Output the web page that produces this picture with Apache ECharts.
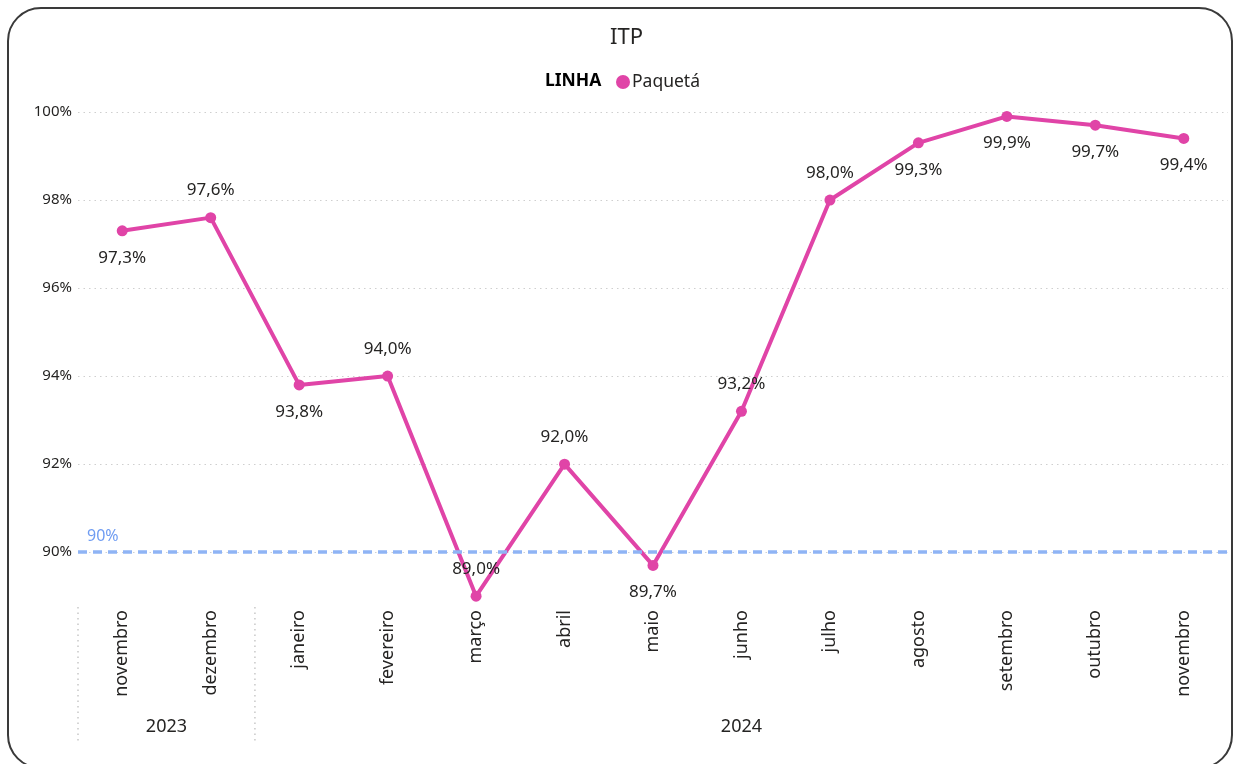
<!DOCTYPE html>
<html>
<head>
<meta charset="utf-8">
<script src="https://cdn.jsdelivr.net/npm/echarts@6/dist/echarts.min.js"></script>
<style>
html,body{margin:0;padding:0;background:#fff;overflow:hidden}
#c{width:1234px;height:764px;position:absolute;left:0;top:0}
#frame{position:absolute;left:7px;top:7px;width:1222px;height:758px;border:2px solid #3a3a3a;border-radius:34px;pointer-events:none}
</style>
</head>
<body>
<div id="c"></div>
<div id="frame"></div>
<script>
// ---- data ----
const months = ['novembro','dezembro','janeiro','fevereiro','março','abril','maio','junho','julho','agosto','setembro','outubro','novembro'];
const years = ['2023','2023','2024','2024','2024','2024','2024','2024','2024','2024','2024','2024','2024'];
const itp = [97.3, 97.6, 93.8, 94.0, 89.0, 92.0, 89.7, 93.2, 98.0, 99.3, 99.9, 99.7, 99.4];
const labelSide = ['bottom','top','bottom','top','top','top','bottom','top','top','bottom','bottom','bottom','bottom'];
const target = 90;
const yMin = 88.8, yMax = 100;

const FONT = '"Noto Sans", "Open Sans", sans-serif';
const TXT = '#252423';
const chart = echarts.init(document.getElementById('c'), null, {renderer: 'canvas'});

const fmtPct = v => v.toFixed(1).replace('.', ',') + '%';

chart.setOption({
  animation: false,
  textStyle: {fontFamily: FONT},
  title: [
    {text: 'ITP', left: 605, top: 22, textStyle: {fontSize: 22, fontWeight: 'normal', color: TXT, fontFamily: FONT}},
    {text: 'LINHA', left: 540, top: 67, textStyle: {fontSize: 17.5, fontWeight: 'bold', color: '#000', fontFamily: FONT}}
  ],
  legend: {
    left: 611, top: 68, icon: 'circle', itemWidth: 14, itemHeight: 14, itemGap: 4,
    textStyle: {fontSize: 17.5, color: TXT, fontFamily: FONT, padding: [0,0,0,-3]},
    data: ['Paquetá']
  },
  grid: {left: 78, right: 6, top: 112, bottom: 159, containLabel: false},
  xAxis: {
    type: 'category', data: months, boundaryGap: true,
    axisLine: {show: false}, axisTick: {show: false},
    axisLabel: {rotate: 90, margin: 5, fontSize: 18, color: TXT, fontFamily: FONT, interval: 0}
  },
  yAxis: {
    type: 'value', min: yMin, max: yMax, splitNumber: 5,
    axisLine: {show: false}, axisTick: {show: false},
    axisLabel: {showMinLabel: false, margin: 6, fontSize: 15, color: TXT, fontFamily: FONT, formatter: v => Math.round(v) + '%'},
    splitLine: {show: true, showMinLine: false, lineStyle: {color: '#cfcfcf', type: [1.5, 4], width: 1}}
  },
  series: [{
    name: 'Paquetá', type: 'line', data: itp.map((v, i) => ({value: v, label: {position: labelSide[i]}})),
    symbol: 'circle', symbolSize: 11,
    lineStyle: {color: '#E044A7', width: 4},
    itemStyle: {color: '#E044A7'},
    label: {show: true, distance: 13, fontSize: 17, color: TXT, fontFamily: FONT, formatter: p => fmtPct(p.value)},
    markLine: {
      silent: true, symbol: 'none',
      data: [{yAxis: target}],
      lineStyle: {color: '#8fb4f5', type: [9, 6], width: 3.5},
      label: {show: true, position: 'insideStartTop', distance: [9, 8], formatter: target + '%', color: '#6f9cf2', fontSize: 16, fontFamily: FONT}
    }
  }]
});

// year grouping row, positioned via the library's own scales
function drawGroups() {
  const c = months.map((m, i) => chart.convertToPixel({xAxisIndex: 0}, i));
  const band = c[1] - c[0];
  const yBottom = chart.convertToPixel({yAxisIndex: 0}, yMin);
  const edges = [c[0] - band / 2];
  const groups = [];
  let start = 0;
  for (let i = 1; i <= years.length; i++) {
    if (i === years.length || years[i] !== years[i - 1]) {
      const l = c[start] - band / 2, r = c[i - 1] + band / 2;
      groups.push({name: years[start], x: (l + r) / 2});
      if (i < years.length) edges.push((c[i - 1] + c[i]) / 2);
      start = i;
    }
  }
  const g = [];
  edges.forEach(x => g.push({
    type: 'line', silent: true,
    shape: {x1: x, y1: yBottom + 2, x2: x, y2: yBottom + 138},
    style: {stroke: '#c8c8c8', lineWidth: 1.5, lineDash: [1.5, 4]}
  }));
  groups.forEach(gr => g.push({
    type: 'text', silent: true, x: gr.x, y: yBottom + 122,
    style: {text: gr.name, fill: TXT, font: '18px ' + FONT, textAlign: 'center', textVerticalAlign: 'middle'}
  }));
  chart.setOption({graphic: g});
}
drawGroups();
</script>
</body>
</html>
